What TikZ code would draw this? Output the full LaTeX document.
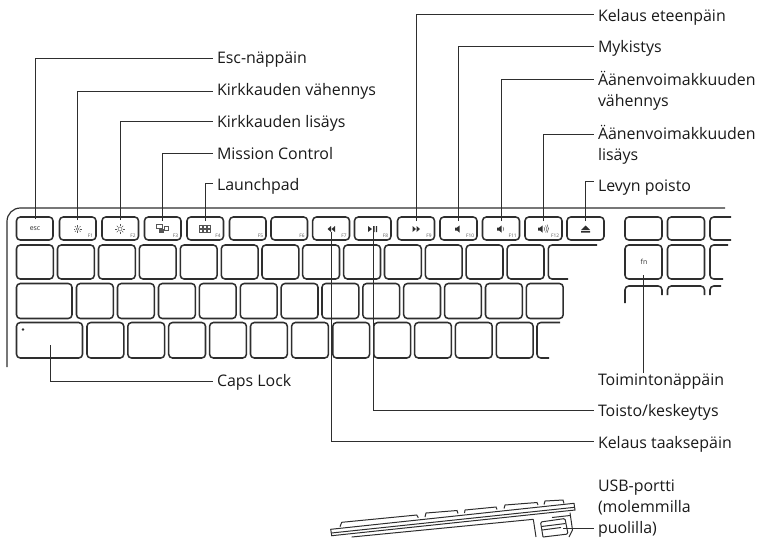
\documentclass[tikz,border=0pt]{standalone}
\usepackage{fontspec}
\setmainfont{Open Sans}
\usetikzlibrary{calc}
\definecolor{ink}{HTML}{2E2E2E}
\definecolor{soft}{HTML}{555555}
\tikzset{
  x=0.75pt,y=-0.75pt,
  keycap/.style={draw=ink,line width=1.15pt,rounded corners=2.8pt,inner sep=0pt,outer sep=0pt,rectangle},
  openkey/.style={draw=ink,line width=1.15pt,rounded corners=2.8pt},
  leader/.style={draw=ink,line width=0.65pt},
  sideline/.style={draw=ink,line width=0.75pt},
  lbl/.style={anchor=base west,inner sep=0pt,outer sep=0pt,font=\fontsize{11.95pt}{15.75pt}\selectfont,text=black!90,align=left},
  tiny/.style={font=\fontsize{3.6pt}{4pt}\selectfont,text=soft,inner sep=0pt,outer sep=0pt},
  legend/.style={font=\fontsize{5.2pt}{6pt}\selectfont,text=ink,inner sep=0pt,outer sep=0pt},
  icon/.style={fill=ink,draw=none},
  iconline/.style={draw=soft,line width=0.35pt},
}
\newcommand{\kk}[5]{\node[keycap,minimum width={(#3-#2)*0.75pt},minimum height={(#5-#4)*0.75pt}] (#1) at ({(#2+#3)/2},{(#4+#5)/2}) {};}
\newcommand{\fkey}[3]{\kk{#1}{#2}{#3}{217}{240}}
\newcommand{\flab}[2]{\node[tiny,anchor=south east] at ($(#1.south east)+(-3,-2.5)$) {#2};}
\begin{document}
\begin{tikzpicture}
\useasboundingbox (0,0) rectangle (762,537);
% case outline
\draw[ink,line width=0.9pt,rounded corners=10pt] (7,367) -- (7,208) -- (725,208);
% function row
\fkey{kesc}{16.5}{53}
\fkey{kfa}{59.5}{96}
\fkey{kfb}{102}{138.5}
\fkey{kfc}{144.5}{181}
\fkey{kfd}{187}{223.5}
\fkey{kfe}{229.5}{266}
\fkey{kff}{271}{307.5}
\fkey{kfg}{312.7}{349.5}
\fkey{kfh}{354.5}{391}
\fkey{kfi}{397.5}{434.5}
\fkey{kfj}{440}{477}
\fkey{kfk}{482.5}{519.5}
\fkey{kfl}{525}{562}
\fkey{kej}{567}{604}
\fkey{kra}{625}{662}
\fkey{krb}{667.5}{704.5}
\draw[openkey] (731,217) -- (710,217) -- (710,240) -- (731,240);
% second row
\foreach \i/\a in {0/16.5,1/57.5,2/98.5,3/139.3,4/180.3,5/221.3,6/262,7/302.7,8/343.7,9/384.5,10/425.4,11/466.2,12/507.2}{
  \kk{kb\i}{\a}{\a+36.8}{245}{279}
}
\draw[openkey] (597,245) -- (548.3,245) -- (548.3,279) -- (568,279);
\kk{kfn}{625}{662}{245}{279}
\kk{krc}{667.5}{704.5}{245}{279}
\draw[openkey] (728,245) -- (710,245) -- (710,279) -- (723,279);
% third row
\kk{kca}{16.5}{72}{283.5}{318.5}
\foreach \i/\a in {1/76.5,2/117.5,3/158.5,4/199.3,5/240.3,6/281.2,7/322,8/362.8,9/403.7,10/444.6,11/485.5,12/526.4}{
  \kk{kc\i}{\a}{\a+36.8}{283.5}{318.5}
}
% fourth row
\kk{kcaps}{16.5}{82.5}{322.5}{358}
\foreach \i/\a in {1/87,2/127.8,3/168.7,4/209.6,5/250.5,6/291.6,7/332.8,8/373.8,9/414.6,10/455.4,11/496.3}{
  \kk{kd\i}{\a}{\a+36.8}{322.5}{358}
}
\draw[openkey] (560,322.5) -- (537,322.5) -- (537,358) -- (549,358);
\fill[ink] (23,329.5) circle (1.3);
% right block, cut rows
\draw[openkey] (625,303) -- (625,286) -- (662,286) -- (662,295);
\draw[openkey] (667.5,295) -- (667.5,286) -- (704.5,286) -- (704.5,295);
\draw[openkey] (710,295) -- (710,286) -- (721,286);
% key legends
\node[legend] at (35,228.5) {esc};
\node[legend] at (644,262) {fn};
\flab{kfa}{F1}\flab{kfb}{F2}\flab{kfc}{F3}\flab{kfd}{F4}\flab{kfe}{F5}\flab{kff}{F6}
\flab{kfg}{F7}\flab{kfh}{F8}\flab{kfi}{F9}\flab{kfj}{F10}\flab{kfk}{F11}\flab{kfl}{F12}
% icons
\foreach \c/\r in {77.7/1.4,120/2}{
  \draw[iconline] (\c,229) circle (\r);
  \foreach \t in {0,45,...,315}{\draw[iconline] ($(\c,229)+(\t:\r+1)$) -- ($(\c,229)+(\t:\r+2.6)$);}
}
\draw[iconline] (156.7,224.7) rectangle (162.3,228.7);
\draw[iconline] (164,226) rectangle (168.3,230.3);
\fill[soft] (158.5,229) rectangle (164,232.7);
\foreach \x in {199,203.2,207.4}{\foreach \y in {225.5,229.5}{\draw[iconline] (\x,\y) rectangle +(3.2,2.6);}}
% transport icons
\fill[icon] (331,226) -- (331,232) -- (327.5,229) -- cycle (335,226) -- (335,232) -- (331.5,229) -- cycle;
\fill[icon] (368,226) -- (368,232) -- (372,229) -- cycle;
\fill[icon] (373.2,226) rectangle (374.6,232) (375.8,226) rectangle (377.2,232);
\fill[icon] (412.5,226) -- (412.5,232) -- (416,229) -- cycle (416.5,226) -- (416.5,232) -- (420,229) -- cycle;
\fill[icon] (455,227.5) -- (457,227.5) -- (459.5,225.5) -- (459.5,232.5) -- (457,230.5) -- (455,230.5) -- cycle;
\fill[icon] (497,227.5) -- (499,227.5) -- (501.5,225.5) -- (501.5,232.5) -- (499,230.5) -- (497,230.5) -- cycle;
\draw[iconline] (503,227) arc (-45:45:2.8);
\fill[icon] (538,227.5) -- (540,227.5) -- (542.5,225.5) -- (542.5,232.5) -- (540,230.5) -- (538,230.5) -- cycle;
\draw[iconline] (544,227) arc (-45:45:2.8) (545.5,225.5) arc (-45:45:4.9) (547,224.5) arc (-40:40:6.5);
\fill[icon] (585.5,225.5) -- (590,230) -- (581,230) -- cycle (581,231) rectangle (590,232.5);
% labels
\node[lbl] (lesc) at (217,63.3) {Esc-näppäin};
\node[lbl] (lkv) at (217,95) {Kirkkauden vähennys};
\node[lbl] (lkl) at (217,127.3) {Kirkkauden lisäys};
\node[lbl] (lmc) at (217,159) {Mission Control};
\node[lbl] (llp) at (217,190) {Launchpad};
\node[lbl] (lcaps) at (217,386) {Caps Lock};
\node[lbl] (lke) at (598,21.7) {Kelaus eteenpäin};
\node[lbl] (lmy) at (598,52.3) {Mykistys};
\node[lbl] (lav) at (598,85) {Äänenvoimakkuuden};
\node[lbl] (lavb) at (598,106) {vähennys};
\node[lbl] (lal) at (598,139.3) {Äänenvoimakkuuden};
\node[lbl] (lalb) at (598,160.7) {lisäys};
\node[lbl] (llv) at (598,191.7) {Levyn poisto};
\node[lbl] (lfn) at (598,385) {Toimintonäppäin};
\node[lbl] (lto) at (598,416.7) {Toisto/keskeytys};
\node[lbl] (lkt) at (598,448) {Kelaus taaksepäin};
\node[lbl] (lusb) at (598,491) {USB-portti};
\node[lbl] (lusbb) at (598,512.7) {(molemmilla};
\node[lbl] (lusbc) at (598,533.3) {puolilla)};
% leaders
\draw[leader] (35,219) |- (212.7,58.3);
\draw[leader] (kfa.center |- 0,220) |- (212.7,91.7);
\draw[leader] (kfb.center |- 0,220) |- (212.7,121.7);
\draw[leader] (kfc.center |- 0,221) |- (212.7,153.3);
\draw[leader] (kfd.center |- 0,221) |- (212.7,183.3);
\draw[leader] (kfi.center |- 0,221) |- (594,14.3);
\draw[leader] (kfj.center |- 0,221) |- (594,46.7);
\draw[leader] (kfk.center |- 0,221) |- (594,79);
\draw[leader] (kfl.center |- 0,221) |- (594,134.3);
\draw[leader] (kej.center |- 0,221) |- (594,181.7);
\draw[leader] (50,345) |- (212.7,381);
\draw[leader] (kfn.center |- 0,275) -- (kfn.center |- lfn.north);
\draw[leader] (373,232) |- (594,410);
\draw[leader] (331,232) |- (594,441.7);
% side view
\draw[sideline] (330.7,529.3) -- (574,503.3) -- (575,510) -- (331.7,535.7) -- cycle;
\draw[sideline] (331.3,533) -- (574.6,507.3);
\draw[sideline] (351.7,537) -- (533.3,519.3) (552,517.5) -- (570,515.5);
\draw[sideline] (340,526.7) -- (341.7,522.3) -- (416.7,515) -- (418.3,517.7);
\draw[sideline] (425,517) -- (426,513) -- (457,510.5) -- (458,513.5);
\draw[sideline] (464.5,513) -- (465,510) -- (496,507) -- (497,509.5);
\draw[sideline] (504,508.5) -- (505,505) -- (537,502.5) -- (538,505);
\draw[sideline] (544,504.5) -- (545,501) -- (563,500) -- (564,503.5);
\draw[sideline] (533.3,519.3) -- (536,537);
\draw[sideline] (570,512.7) -- (572.5,530) -- (569,537);
\draw[sideline,rounded corners=1pt] (543,537) -- (540.5,522) -- (565,518.5) -- (568,534) -- (543,537);
\draw[sideline] (541.3,526.5) -- (565.5,523.5) (542,530) -- (561,527.5);
\draw[leader] (563,528.3) -- (594,528.3);
\end{tikzpicture}
\end{document}
